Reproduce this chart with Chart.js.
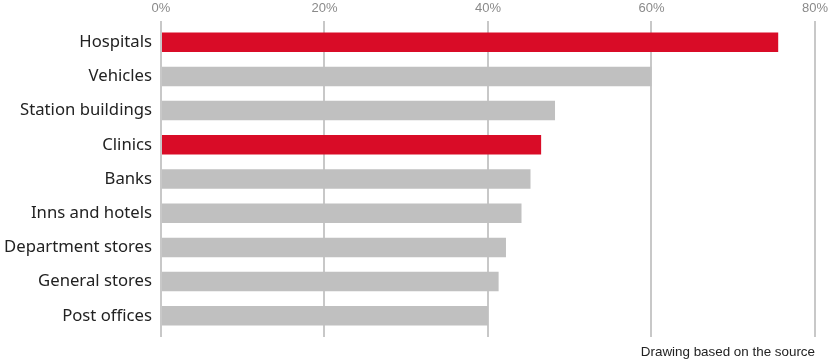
<!DOCTYPE html>
<html>
<head>
<meta charset="utf-8">
<script src="https://cdn.jsdelivr.net/npm/chart.js@4"></script>
<style>
  body { margin: 0; background: #fff; }
  #wrap { position: relative; width: 833px; height: 362px; }
  #note {
    position: absolute; right: 18px; bottom: 3px;
    font: 13.4px "Liberation Sans", Arial, sans-serif; color: #222;
  }
</style>
</head>
<body>
<div id="wrap">
  <canvas id="chart"></canvas>
  <div id="note">Drawing based on the source</div>
</div>
<script>
const categories = ['Hospitals', 'Vehicles', 'Station buildings', 'Clinics', 'Banks',
    'Inns and hotels', 'Department stores', 'General stores', 'Post offices'];
const shares = [75.5, 60.0, 48.2, 46.5, 45.2, 44.1, 42.2, 41.3, 40.0];
const highlighted = ['Hospitals', 'Clinics'];
const xTicks = [0, 20, 40, 60, 80];

const RED = '#d90c27';
const GREY = '#c0c0c0';

document.addEventListener('DOMContentLoaded', function () {
    const ctx = document.getElementById('chart').getContext('2d');

    new Chart(ctx, {
        type: 'bar',
        data: {
            labels: categories,
            datasets: [{
                data: shares,
                backgroundColor: categories.map(c => highlighted.includes(c) ? RED : GREY),
                barPercentage: 0.57,
                categoryPercentage: 1.0
            }]
        },
        options: {
            indexAxis: 'y',
            responsive: true,
            maintainAspectRatio: false,
            animation: false,
            layout: { padding: { top: 0, right: 17, bottom: 25, left: 0 } },
            plugins: {
                legend: { display: false },
                tooltip: { enabled: false }
            },
            scales: {
                x: {
                    position: 'top',
                    min: xTicks[0],
                    max: xTicks[xTicks.length - 1],
                    afterBuildTicks: s => { s.ticks = xTicks.map(v => ({ value: v })); },
                    afterFit: s => { s.height = 21; },
                    grid: { color: '#c8c8c8', lineWidth: 2, drawTicks: false },
                    border: { display: false },
                    ticks: {
                        padding: 5,
                        color: '#8a8a8a',
                        font: { family: 'Liberation Sans', size: 13 },
                        callback: v => v + '%'
                    }
                },
                y: {
                    // leave a bit of room above the first bar and below the last one
                    afterBuildTicks: s => { s._startValue = -0.62; s._valueRange = 9.24; },
                    afterFit: s => { s.width = 161; },
                    grid: { display: false },
                    border: { display: false },
                    ticks: {
                        padding: 1,
                        color: '#222',
                        font: { family: 'Noto Sans', size: 16.7 }
                    }
                }
            }
        }
    });
});
</script>
</body>
</html>
